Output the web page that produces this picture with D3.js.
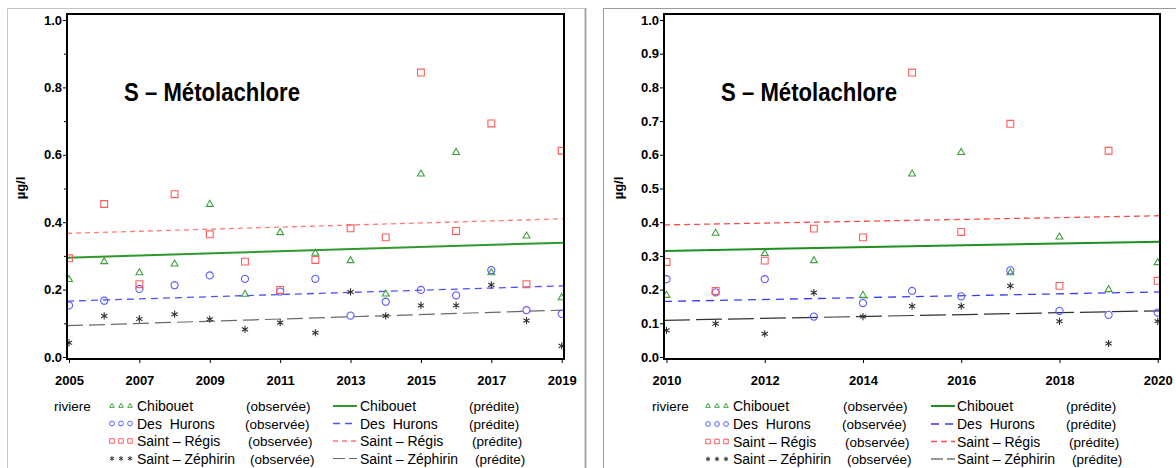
<!DOCTYPE html>
<html>
<head>
<meta charset="utf-8">
<script src="https://cdn.jsdelivr.net/npm/d3@7"></script>
<style>
  body { margin: 0; background: #fff; }
  text { font-family: "Liberation Sans", Arial, sans-serif; fill: #000; }
</style>
</head>
<body>
<div id="graphique"></div>
<script>
// --- CONFIGURATION ---
const largeur = 1176;
const hauteur = 468;

// --- DONNÉES ---
const rivieres = ["Chibouet", "Des  Hurons", "Saint – Régis", "Saint – Zéphirin"];
const titre = "S – Métolachlore";

// panneau de gauche : 2005 à 2019
const anneesA = [2005, 2006, 2007, 2008, 2009, 2010, 2011, 2012, 2013, 2014, 2015, 2016, 2017, 2018, 2019];
const chibouetA = [0.230, 0.283, 0.250, 0.276, 0.453, 0.186, 0.369, 0.308, 0.286, 0.187, 0.543, 0.607, 0.250, 0.359, 0.176];
const huronsA   = [0.153, 0.167, 0.202, 0.213, 0.242, 0.232, 0.194, 0.232, 0.123, 0.164, 0.199, 0.183, 0.258, 0.139, 0.128];
const regisA    = [0.293, 0.454, 0.216, 0.483, 0.364, 0.283, 0.199, 0.288, 0.382, 0.355, 0.844, 0.374, 0.693, 0.216, 0.612];
const zephirinA = [0.042, 0.122, 0.113, 0.127, 0.112, 0.082, 0.102, 0.072, 0.193, 0.122, 0.153, 0.153, 0.214, 0.108, 0.033];
// droites prédites (valeur en 2005 et en 2019), même ordre que rivieres
const predDebutA = [0.295, 0.166, 0.367, 0.093];
const predFinA   = [0.339, 0.211, 0.410, 0.139];
const ticksXA = [2005, 2007, 2009, 2011, 2013, 2015, 2017, 2019];
const ticksYA = [0.0, 0.2, 0.4, 0.6, 0.8, 1.0];
const mineursYA = [0.1, 0.3, 0.5, 0.7, 0.9];

// panneau de droite : 2010 à 2020
const anneesB = [2010, 2011, 2012, 2013, 2014, 2015, 2016, 2017, 2018, 2019, 2020];
const chibouetB = [0.183, 0.367, 0.307, 0.286, 0.183, 0.543, 0.607, 0.250, 0.356, 0.200, 0.280];
const huronsB   = [0.231, 0.192, 0.231, 0.120, 0.160, 0.196, 0.180, 0.257, 0.137, 0.125, 0.132];
const regisB    = [0.282, 0.196, 0.286, 0.381, 0.355, 0.844, 0.371, 0.692, 0.211, 0.612, 0.226];
const zephirinB = [0.079, 0.099, 0.069, 0.191, 0.120, 0.151, 0.151, 0.211, 0.106, 0.040, 0.106];
const predDebutB = [0.315, 0.165, 0.392, 0.109];
const predFinB   = [0.342, 0.193, 0.419, 0.137];
const ticksXB = [2010, 2012, 2014, 2016, 2018, 2020];
const ticksYB = [0.0, 0.1, 0.2, 0.3, 0.4, 0.5, 0.6, 0.7, 0.8, 0.9, 1.0];
const mineursYB = [];

// --- STYLES DES SÉRIES ---
const couleursObs = ["#3f9f3f", "#5c5cff", "#ff5c5c", "#333333"];
const couleursPred = [["#2f9a2f", "#5050ff", "#ff7a7a", "#6a6a6a"],
                      ["#1f8f1f", "#3a3aff", "#ff4a4a", "#333333"]];
const tiretsPred = [["", "7,5", "5,4", "16,6"], ["", "8,6", "6,4", "26,6"]];
const epaisseursPred = [2, 1.3, 1.3, 1.2];

// forme des symboles : triangle, rond, carré, astérisque
function symbole(i, r) {
    if (i === 0) return d3.symbol().type(d3.symbolTriangle).size(r * r * 1.6)();
    if (i === 1) return d3.symbol().type(d3.symbolCircle).size(r * r * 3.1)();
    if (i === 2) return d3.symbol().type(d3.symbolSquare).size(r * r * 3.6)();
    const a = r * 0.866, b = r * 0.5;
    return `M0,${-r}L0,${r}M${-a},${-b}L${a},${b}M${-a},${b}L${a},${-b}`;
}

const svg = d3.select("#graphique")
    .append("svg")
    .attr("width", largeur)
    .attr("height", hauteur);

// cadres gris des deux figures
svg.append("path")
    .attr("d", "M7.5,500V8.5H585.5V500")
    .attr("fill", "none").attr("stroke", "#c4c4c4").attr("stroke-width", 1);
svg.append("line").attr("x1", 585.5).attr("x2", 585.5).attr("y1", 8).attr("y2", 468)
    .attr("stroke", "#a8a8a8").attr("stroke-width", 2);
svg.append("path")
    .attr("d", "M603.5,500V8.5H1180")
    .attr("fill", "none").attr("stroke", "#9a9a9a").attr("stroke-width", 1);

const panneaux = [
    { id: "A", annees: anneesA, series: [chibouetA, huronsA, regisA, zephirinA],
      predDebut: predDebutA, predFin: predFinA, ticksX: ticksXA, ticksY: ticksYA, mineursY: mineursYA,
      cadre: { x0: 67, x1: 564, y0: 14, y1: 359 }, plageX: [69, 561.7], titreX: 124, titreY: 25,
      leg: { riviere: 54, sym: 112, lab: 137, obs: 246, ligne: 333, lab2: 360, pred: 469,
             lignes: [411, 428.5, 446, 463.5] } },
    { id: "B", annees: anneesB, series: [chibouetB, huronsB, regisB, zephirinB],
      predDebut: predDebutB, predFin: predFinB, ticksX: ticksXB, ticksY: ticksYB, mineursY: mineursYB,
      cadre: { x0: 664, x1: 1160, y0: 14, y1: 359 }, plageX: [666.5, 1157.7], titreX: 721, titreY: 623,
      leg: { riviere: 652, sym: 708, lab: 733, obs: 843, ligne: 931, lab2: 957, pred: 1066,
             lignes: [411, 429, 446.5, 464] } }
];
const decalObs = [0, -1, 2, 4];
const decalPred = [0, 0, 3, 6];

panneaux.forEach((p, k) => {
    const c = p.cadre;
    const x = d3.scaleLinear().domain([p.annees[0], p.annees[p.annees.length - 1]]).range(p.plageX);
    const y = d3.scaleLinear().domain([0, 1]).range([357, 20]);

    // zone de découpe = intérieur du cadre
    svg.append("clipPath").attr("id", "clip" + p.id)
        .append("rect").attr("x", c.x0).attr("y", c.y0)
        .attr("width", c.x1 - c.x0).attr("height", c.y1 - c.y0);

    // axes
    const axeY = svg.append("g").attr("transform", `translate(${c.x0},0)`)
        .call(d3.axisLeft(y).tickValues(p.ticksY).tickFormat(d3.format(".1f")).tickSize(4).tickPadding(1));
    svg.append("g").attr("transform", `translate(${c.x0},0)`)
        .call(d3.axisLeft(y).tickValues(p.mineursY).tickFormat("").tickSize(3));
    const axeX = svg.append("g").attr("transform", `translate(0,${c.y1})`)
        .call(d3.axisBottom(x).tickValues(p.ticksX).tickFormat(d3.format("d")).tickSize(4).tickPadding(13));
    svg.selectAll(".domain").remove();
    svg.selectAll(".tick line").attr("stroke", "#000").attr("stroke-width", 1);
    [axeY, axeX].forEach(a => a.selectAll("text")
        .style("font-size", "13px").style("font-weight", "bold").attr("fill", "#000"));

    // titre de l'axe y
    svg.append("text")
        .attr("transform", `translate(${p.titreY},188) rotate(-90)`)
        .attr("text-anchor", "middle")
        .style("font-size", "13px").style("font-weight", "bold")
        .text("µg/l");

    const zone = svg.append("g").attr("clip-path", `url(#clip${p.id})`);

    // droites prédites
    p.predDebut.forEach((v, i) => {
        zone.append("line")
            .attr("x1", c.x0).attr("x2", c.x1)
            .attr("y1", y(v) + (y(p.predFin[i]) - y(v)) * (c.x0 - p.plageX[0]) / (p.plageX[1] - p.plageX[0]))
            .attr("y2", y(v) + (y(p.predFin[i]) - y(v)) * (c.x1 - p.plageX[0]) / (p.plageX[1] - p.plageX[0]))
            .attr("stroke", couleursPred[k][i])
            .attr("stroke-width", epaisseursPred[i])
            .attr("stroke-dasharray", tiretsPred[k][i]);
    });

    // valeurs observées
    p.series.forEach((serie, i) => {
        zone.selectAll(".obs" + i)
            .data(serie)
            .join("path")
            .attr("class", "obs" + i)
            .attr("transform", (d, j) => `translate(${x(p.annees[j])},${y(d)})`)
            .attr("d", symbole(i, 3.6))
            .attr("fill", "none")
            .attr("stroke", couleursObs[i])
            .attr("stroke-width", 1.1);
    });

    // cadre du graphique
    svg.append("rect")
        .attr("x", c.x0).attr("y", c.y0)
        .attr("width", c.x1 - c.x0).attr("height", c.y1 - c.y0)
        .attr("fill", "none").attr("stroke", "#000").attr("stroke-width", 2);

    // titre
    svg.append("text")
        .attr("x", p.titreX).attr("y", 101)
        .attr("textLength", 176).attr("lengthAdjust", "spacingAndGlyphs")
        .style("font-size", "25px").style("font-weight", "bold")
        .text(titre);

    // légende
    const L = p.leg;
    svg.append("text").attr("x", L.riviere).attr("y", L.lignes[0])
        .style("font-size", "13.5px").text("riviere");
    rivieres.forEach((nom, i) => {
        const yl = L.lignes[i];
        [0, 9, 18].forEach(dx => {
            svg.append("path")
                .attr("transform", `translate(${L.sym + dx},${yl - 5})`)
                .attr("d", symbole(i, 2.4))
                .attr("fill", "none").attr("stroke", couleursObs[i]).attr("stroke-width", 1);
        });
        svg.append("text").attr("x", L.lab).attr("y", yl)
            .style("font-size", "14px").style("white-space", "pre").text(nom);
        svg.append("text").attr("x", L.obs + decalObs[i]).attr("y", yl)
            .style("font-size", "13.5px").text("(observée)");
        svg.append("line")
            .attr("x1", L.ligne).attr("x2", L.ligne + 24)
            .attr("y1", yl - 5).attr("y2", yl - 5)
            .attr("stroke", couleursPred[k][i])
            .attr("stroke-width", epaisseursPred[i])
            .attr("stroke-dasharray", tiretsPred[k][i] === "" ? "" : (i === 3 ? "12,4" : tiretsPred[k][i]));
        svg.append("text").attr("x", L.lab2).attr("y", yl)
            .style("font-size", "14px").style("white-space", "pre").text(nom);
        svg.append("text").attr("x", L.pred + decalPred[i]).attr("y", yl)
            .style("font-size", "13.5px").text("(prédite)");
    });
});
</script>
</body>
</html>
